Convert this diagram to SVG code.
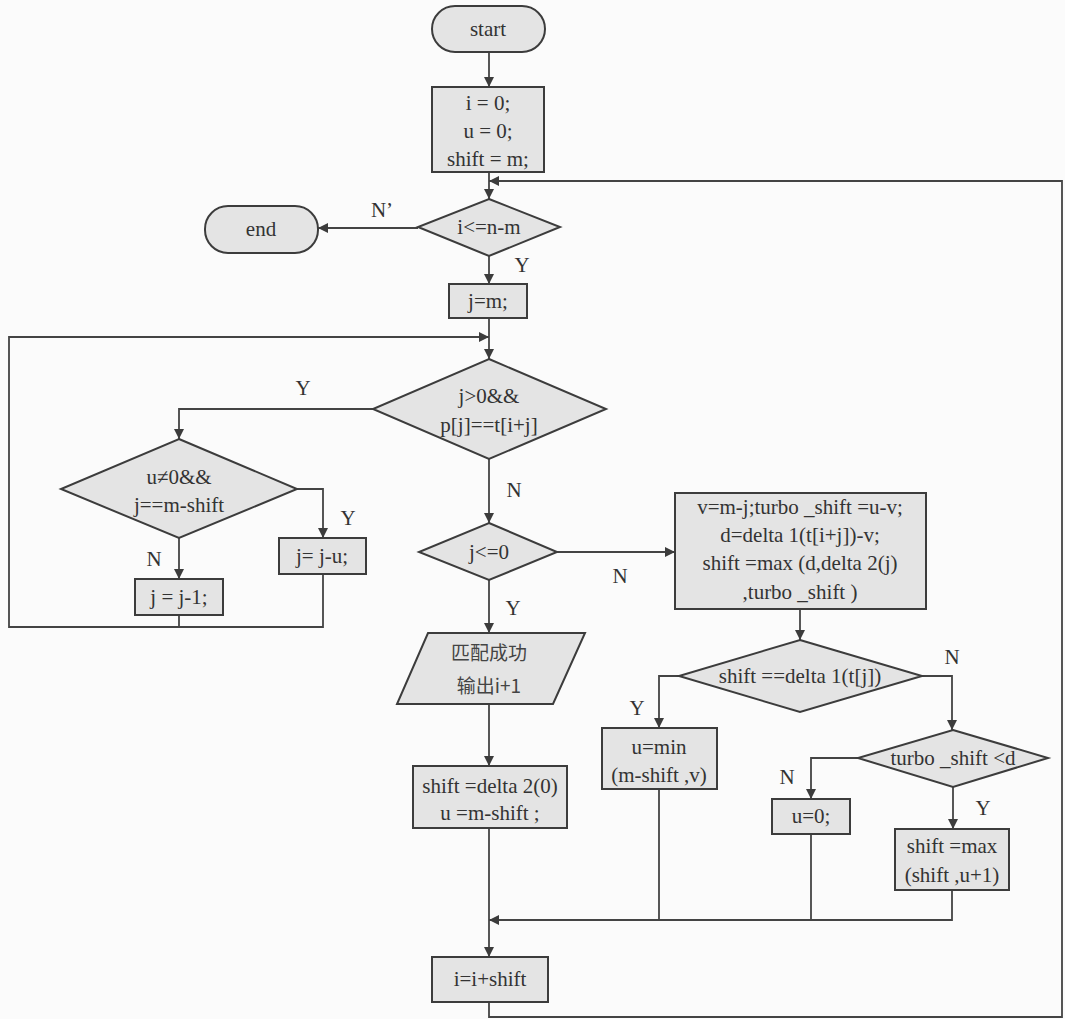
<svg xmlns="http://www.w3.org/2000/svg" width="1065" height="1019" viewBox="0 0 1065 1019">
<style>
.node{fill:#e4e4e4;stroke:#3c3c3c;stroke-width:2}
.edge{fill:none;stroke:#444;stroke-width:1.8}
text{font-family:'Liberation Serif','Times New Roman','DejaVu Serif',serif;font-size:21px;fill:#333;text-anchor:middle}
text.cjk{font-family:'Noto Sans CJK SC',sans-serif;font-size:19px;fill:#444}
</style>
<defs>
<marker id="ah" viewBox="0 0 10 10" refX="10" refY="5" markerWidth="10" markerHeight="10" markerUnits="userSpaceOnUse" orient="auto">
<path d="M0,0 L10,5 L0,10 z" fill="#3c3c3c"/>
</marker>
</defs>
<rect width="1065" height="1019" fill="#fbfbfb"/>
<g id="connectors">
<path class="edge" d="M489 52 V87" marker-end="url(#ah)"/>
<path class="edge" d="M489 172 V199" marker-end="url(#ah)"/>
<path class="edge" d="M489 1002 V1017 H1062 V181 H489" marker-end="url(#ah)"/>
<path class="edge" d="M418 228 H318" marker-end="url(#ah)"/>
<path class="edge" d="M489 256 V284" marker-end="url(#ah)"/>
<path class="edge" d="M489 318 V359" marker-end="url(#ah)"/>
<path class="edge" d="M179 615 V627"/>
<path class="edge" d="M323 574 V627 H9 V337 H489" marker-end="url(#ah)"/>
<path class="edge" d="M373 409 H179 V439" marker-end="url(#ah)"/>
<path class="edge" d="M297 489 H323 V538" marker-end="url(#ah)"/>
<path class="edge" d="M179 538 V579" marker-end="url(#ah)"/>
<path class="edge" d="M489 459 V523" marker-end="url(#ah)"/>
<path class="edge" d="M557 552 H675" marker-end="url(#ah)"/>
<path class="edge" d="M489 580 V633" marker-end="url(#ah)"/>
<path class="edge" d="M489 704 V766" marker-end="url(#ah)"/>
<path class="edge" d="M489 828 V957" marker-end="url(#ah)"/>
<path class="edge" d="M952 890 V920 H489" marker-end="url(#ah)"/>
<path class="edge" d="M659 789 V920"/>
<path class="edge" d="M811 834 V920"/>
<path class="edge" d="M800 609 V640" marker-end="url(#ah)"/>
<path class="edge" d="M679 676 H659 V728" marker-end="url(#ah)"/>
<path class="edge" d="M922 676 H952 V730" marker-end="url(#ah)"/>
<path class="edge" d="M858 758 H811 V799" marker-end="url(#ah)"/>
<path class="edge" d="M953 787 V829" marker-end="url(#ah)"/>
<text x="382" y="217">N’</text>
<text x="522" y="272">Y</text>
<text x="303" y="395">Y</text>
<text x="348" y="525">Y</text>
<text x="154" y="566">N</text>
<text x="514" y="497">N</text>
<text x="620" y="583">N</text>
<text x="513" y="615">Y</text>
<text x="637" y="715">Y</text>
<text x="952" y="664">N</text>
<text x="787" y="784">N</text>
<text x="983" y="815">Y</text>
</g>
<g id="start">
<rect class="node" x="432" y="6" width="113" height="46" rx="23"/>
<text x="488" y="36">start</text>
</g>
<g id="init">
<rect class="node" x="432" y="87" width="112" height="85"/>
<text x="488" y="110">i = 0;</text>
<text x="488" y="138">u = 0;</text>
<text x="488" y="166">shift = m;</text>
</g>
<g id="cond-i">
<polygon class="node" points="489,199 560,227 489,256 418,227"/>
<text x="489" y="234">i&lt;=n-m</text>
</g>
<g id="end">
<rect class="node" x="205" y="206" width="113" height="47" rx="23"/>
<text x="261" y="236">end</text>
</g>
<g id="set-j">
<rect class="node" x="449" y="284" width="78" height="34"/>
<text x="488" y="308">j=m;</text>
</g>
<g id="cond-match">
<polygon class="node" points="489,359 606,409 489,459 373,409"/>
<text x="489" y="403">j&gt;0&amp;&amp;</text>
<text x="489" y="432">p[j]==t[i+j]</text>
</g>
<g id="cond-u">
<polygon class="node" points="179,439 297,489 179,538 61,489"/>
<text x="179" y="484">u≠0&amp;&amp;</text>
<text x="179" y="512">j==m-shift</text>
</g>
<g id="j-minus-u">
<rect class="node" x="279" y="538" width="87" height="36"/>
<text x="322" y="563">j= j-u;</text>
</g>
<g id="j-minus-1">
<rect class="node" x="135" y="579" width="88" height="36"/>
<text x="179" y="604">j = j-1;</text>
</g>
<g id="cond-j0">
<polygon class="node" points="489,523 557,552 489,580 419,552"/>
<text x="489" y="559">j&lt;=0</text>
</g>
<g id="output">
<polygon class="node" points="428,633 585,633 553,704 397,704"/>
<text class="cjk" x="489" y="660">匹配成功</text>
<text class="cjk" x="489" y="693">输出i+1</text>
</g>
<g id="shift-delta2">
<rect class="node" x="413" y="766" width="154" height="62"/>
<text x="490" y="793">shift =delta 2(0)</text>
<text x="490" y="820">u =m-shift ;</text>
</g>
<g id="compute">
<rect class="node" x="675" y="493" width="251" height="116"/>
<text x="800" y="514">v=m-j;turbo _shift =u-v;</text>
<text x="800" y="542">d=delta 1(t[i+j])-v;</text>
<text x="800" y="570">shift =max (d,delta 2(j)</text>
<text x="800" y="599">,turbo _shift )</text>
</g>
<g id="cond-delta1">
<polygon class="node" points="800,640 922,676 800,712 679,676"/>
<text x="800" y="683">shift ==delta 1(t[j])</text>
</g>
<g id="u-min">
<rect class="node" x="602" y="728" width="115" height="61"/>
<text x="659" y="754">u=min</text>
<text x="659" y="782">(m-shift ,v)</text>
</g>
<g id="cond-turbo">
<polygon class="node" points="953,730 1048,758 953,787 858,758"/>
<text x="953" y="765">turbo _shift &lt;d</text>
</g>
<g id="u-zero">
<rect class="node" x="772" y="799" width="78" height="35"/>
<text x="811" y="823">u=0;</text>
</g>
<g id="shift-max">
<rect class="node" x="895" y="829" width="114" height="61"/>
<text x="952" y="853">shift =max</text>
<text x="952" y="882">(shift ,u+1)</text>
</g>
<g id="increment">
<rect class="node" x="432" y="957" width="116" height="45"/>
<text x="490" y="986">i=i+shift</text>
</g>
</svg>
